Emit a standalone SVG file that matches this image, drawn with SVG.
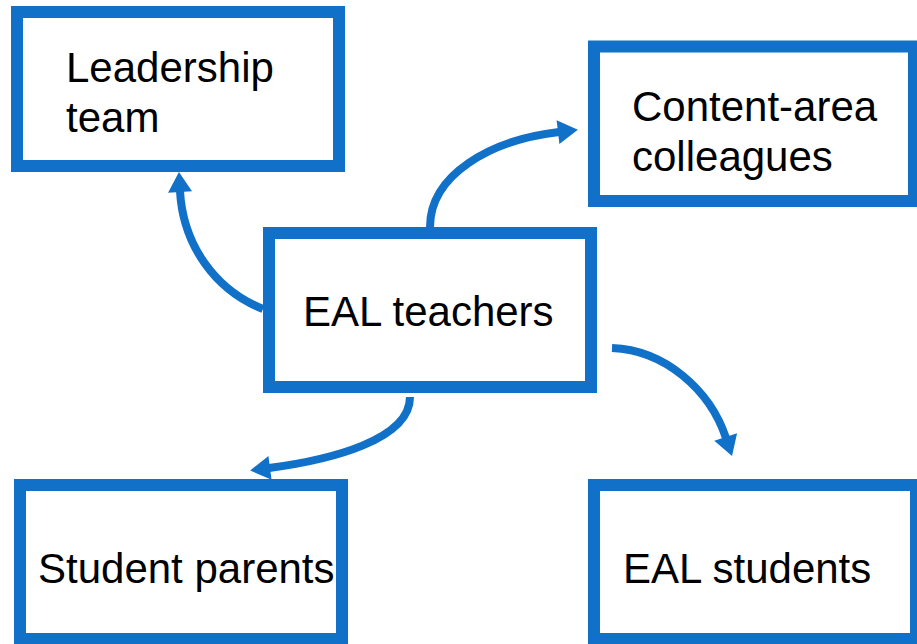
<svg xmlns="http://www.w3.org/2000/svg" width="917" height="644" viewBox="0 0 917 644">
  <style>
    .box { fill: #ffffff; stroke: #1170C8; stroke-width: 12; }
    .lbl { font-family: "Liberation Sans", Arial, sans-serif; font-size: 42px; fill: #000000; }
    .conn { fill: none; stroke: #1170C8; stroke-width: 8; stroke-linecap: butt; }
  </style>
  <defs>
    <marker id="arrow" markerUnits="userSpaceOnUse" markerWidth="24" markerHeight="26" refX="1" refY="12" orient="auto" overflow="visible">
      <path d="M0,0 L20,12 L0,24 Z" fill="#1170C8"/>
    </marker>
  </defs>
  <rect width="917" height="644" fill="#ffffff"/>

  <g id="leadership-team">
    <rect class="box" x="17" y="12" width="322" height="154"/>
    <text class="lbl" x="66" y="82">Leadership</text>
    <text class="lbl" x="66" y="132">team</text>
  </g>

  <g id="content-area-colleagues">
    <rect class="box" x="594" y="46.5" width="320" height="154.5"/>
    <text class="lbl" x="632" y="121">Content-area</text>
    <text class="lbl" x="632" y="171">colleagues</text>
  </g>

  <g id="eal-teachers">
    <rect class="box" x="269" y="233" width="322" height="154"/>
    <text class="lbl" x="303" y="326">EAL teachers</text>
  </g>

  <g id="student-parents">
    <rect class="box" x="20" y="485" width="322" height="154"/>
    <text class="lbl" x="38" y="583">Student parents</text>
  </g>

  <g id="eal-students">
    <rect class="box" x="594" y="485" width="322" height="154"/>
    <text class="lbl" x="623" y="583">EAL students</text>
  </g>

  <g id="connectors">
    <path class="conn" marker-end="url(#arrow)" d="M263,309 C215,290 183,245 180,191"/>
    <path class="conn" marker-end="url(#arrow)" d="M430,227 C430,175 490,140 559,132"/>
    <path class="conn" marker-end="url(#arrow)" d="M410,397 C410,440 330,460 269,468"/>
    <path class="conn" marker-end="url(#arrow)" d="M612,348 C665,350 710,390 726,438"/>
  </g>
</svg>
